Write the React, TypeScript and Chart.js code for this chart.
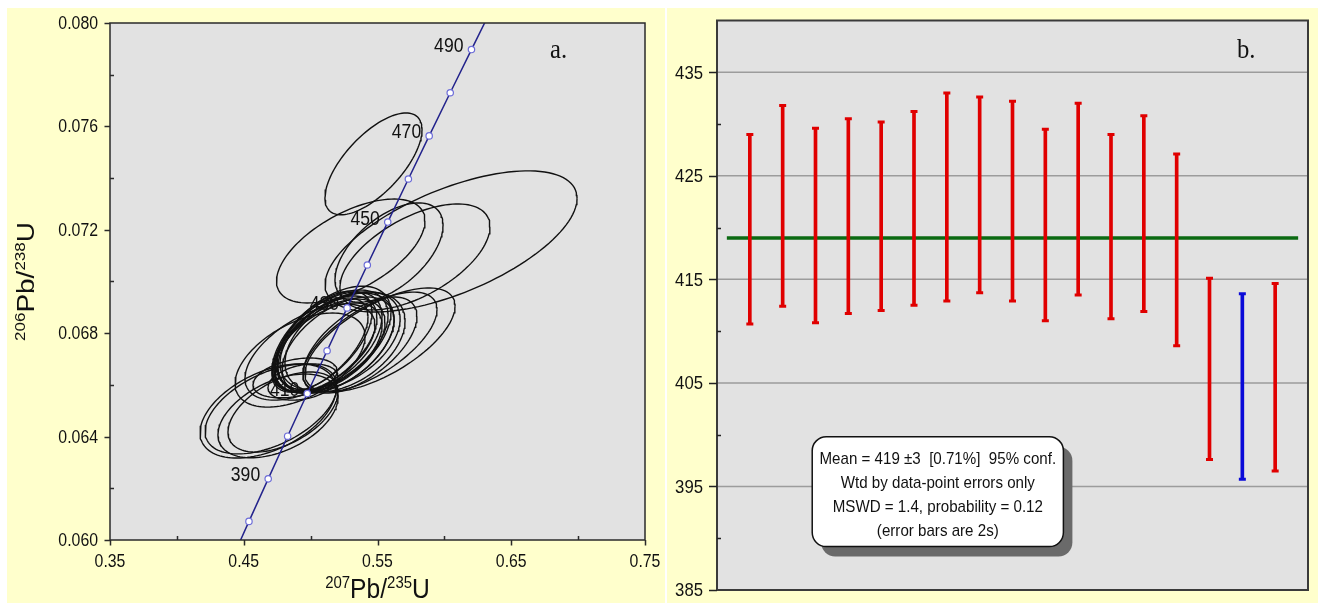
import React, { useEffect, useRef } from 'react';
import { Chart, registerables } from 'chart.js';
Chart.register(...registerables);

// ---------------- Panel a: concordia ----------------
const xMajorTicks = [0.35, 0.45, 0.55, 0.65, 0.75];
const xMajorLabels = ['0.35', '0.45', '0.55', '0.65', '0.75'];
const xMinorTicks = [0.4, 0.5, 0.6, 0.7];
const yMajorTicks = [0.06, 0.064, 0.068, 0.072, 0.076, 0.08];
const yMajorLabels = ['0.060', '0.064', '0.068', '0.072', '0.076', '0.080'];
const yMinorTicks = [0.062, 0.066, 0.07, 0.074, 0.078];

const concordiaAges = [370, 380, 390, 400, 410, 420, 430, 440, 450, 460, 470, 480, 490, 500];
const concordiaX = [0.43964, 0.45389, 0.46828, 0.48281, 0.49749, 0.51231, 0.52728, 0.54239, 0.55766, 0.57308, 0.58864, 0.60437, 0.62025, 0.63628];
const concordiaY = [0.059075, 0.06072, 0.062366, 0.064015, 0.065666, 0.067322, 0.068978, 0.070638, 0.072299, 0.073965, 0.075632, 0.077301, 0.078973, 0.080649];
const concordiaLabelAges = [390, 410, 430, 450, 470, 490];

// error ellipses: centre, 2s half-extent, correlation
const ellX = [0.547, 0.605, 0.578, 0.5586, 0.53,
  0.513, 0.516, 0.519, 0.5107, 0.522, 0.5145, 0.5175, 0.5085, 0.5257, 0.513, 0.5205, 0.507,
  0.5519, 0.5444, 0.5369,
  0.4681, 0.4704, 0.4756, 0.4793,
  0.4921, 0.4995,
  0.4943, 0.4883];
const ellSX = [0.0363, 0.0942, 0.0561, 0.0404, 0.0555,
  0.0404, 0.0419, 0.0434, 0.0389, 0.0449, 0.0411, 0.0426, 0.0374, 0.0449, 0.0404, 0.0419, 0.0359,
  0.0561, 0.0501, 0.0426,
  0.0508, 0.0493, 0.0449, 0.0411,
  0.0486, 0.0486,
  0.0262, 0.0314];
const ellY = [0.07455, 0.07155, 0.07095, 0.07112, 0.07118,
  0.06766, 0.06774, 0.06762, 0.06758, 0.0677, 0.0675, 0.06781, 0.0677, 0.06766, 0.06743, 0.06754, 0.06754,
  0.06774, 0.06766, 0.06754,
  0.06499, 0.06507, 0.0648, 0.06495,
  0.06696, 0.06727,
  0.06611, 0.06627];
const ellSY = [0.00197, 0.00273, 0.00205, 0.00192, 0.00201,
  0.00193, 0.00193, 0.00193, 0.00186, 0.0019, 0.00182, 0.00201, 0.00193, 0.00193, 0.00174, 0.00186, 0.00182,
  0.00201, 0.00193, 0.00186,
  0.00182, 0.00174, 0.00162, 0.00155,
  0.00182, 0.00186,
  0.0007, 0.00077];
const ellRho = [0.67, 0.61, 0.57, 0.55, 0.58,
  0.52, 0.5, 0.48, 0.55, 0.45, 0.5, 0.5, 0.58, 0.42, 0.5, 0.52, 0.6,
  0.65, 0.65, 0.6,
  0.46, 0.5, 0.45, 0.5,
  0.5, 0.55,
  0.3, 0.35];

// ---------------- Panel b: weighted mean ----------------
const barLow = [410.7, 412.4, 410.8, 411.7, 412.0, 412.5, 412.9, 413.7, 412.9, 411.0, 413.5, 411.2, 411.9, 408.6, 397.6, 395.7, 396.5];
const barHigh = [429.0, 431.8, 429.6, 430.5, 430.2, 431.2, 433.0, 432.6, 432.2, 429.5, 432.0, 429.0, 430.8, 427.1, 415.1, 413.6, 414.6];
const rejected = [false, false, false, false, false, false, false, false, false, false, false, false, false, false, false, true, false];
const meanAge = 419;
const bMajorTicks = [385, 395, 405, 415, 425, 435];
const bMajorLabels = ['385', '395', '405', '415', '425', '435'];
const bMinorTicks = [390, 400, 410, 420, 430];
const bGridLines = [395, 405, 415, 425, 435];
const boxLines = [
  'Mean = 419 \u00b13  [0.71%]  95% conf.',
  'Wtd by data-point errors only',
  'MSWD = 1.4, probability = 0.12',
  '(error bars are 2s)',
];

const SANS = '"Liberation Sans", Arial, sans-serif';
const SERIF = '"Liberation Serif", "Times New Roman", serif';
const SQ = 0.88;

function txt(ctx: CanvasRenderingContext2D, s: string, x: number, y: number, font: string,
  align: CanvasTextAlign, baseline: CanvasTextBaseline, sx = SQ, color = '#111') {
  ctx.save();
  ctx.font = font;
  ctx.fillStyle = color;
  ctx.textAlign = align;
  ctx.textBaseline = baseline;
  ctx.translate(x, y);
  ctx.scale(sx, 1);
  ctx.fillText(s, 0, 0);
  ctx.restore();
}

type Seg = { t: string; sup: boolean };
const titleX: Seg[] = [{ t: '207', sup: true }, { t: 'Pb/', sup: false }, { t: '235', sup: true }, { t: 'U', sup: false }];
const titleY: Seg[] = [{ t: '206', sup: true }, { t: 'Pb/', sup: false }, { t: '238', sup: true }, { t: 'U', sup: false }];

function drawSupTitle(ctx: CanvasRenderingContext2D, segs: Seg[]) {
  const big = `28px ${SANS}`;
  const small = `17px ${SANS}`;
  let total = 0;
  const widths = segs.map((s) => {
    ctx.font = s.sup ? small : big;
    const w = ctx.measureText(s.t).width;
    total += w;
    return w;
  });
  let x = -total / 2;
  ctx.fillStyle = '#111';
  ctx.textBaseline = 'alphabetic';
  ctx.textAlign = 'left';
  segs.forEach((s, i) => {
    ctx.font = s.sup ? small : big;
    ctx.fillText(s.t, x, s.sup ? -10 : 0);
    x += widths[i];
  });
}

const concordiaPlugin = {
  id: 'concordiaDecor',
  beforeDraw(chart: any) {
    const { ctx, chartArea: a } = chart;
    ctx.save();
    ctx.fillStyle = '#e2e2e2';
    ctx.fillRect(a.left, a.top, a.right - a.left, a.bottom - a.top);
    ctx.restore();
  },
  beforeDatasetsDraw(chart: any) {
    const { ctx } = chart;
    const xs = chart.scales.x;
    const ys = chart.scales.y;
    concordiaLabelAges.forEach((age) => {
      const i = concordiaAges.indexOf(age);
      const px = xs.getPixelForValue(concordiaX[i]);
      const py = ys.getPixelForValue(concordiaY[i]);
      txt(ctx, String(age), px - 8, py - 3, `20px ${SANS}`, 'right', 'middle');
    });
  },
  afterDraw(chart: any) {
    const { ctx, chartArea: a } = chart;
    const xs = chart.scales.x;
    const ys = chart.scales.y;
    ctx.save();
    ctx.strokeStyle = '#2a2a2a';
    ctx.lineWidth = 1.5;
    ctx.strokeRect(a.left, a.top, a.right - a.left, a.bottom - a.top);
    ctx.beginPath();
    xMajorTicks.forEach((v) => {
      const p = Math.round(xs.getPixelForValue(v)) + 0.5;
      ctx.moveTo(p, a.bottom); ctx.lineTo(p, a.bottom + 5.5);
    });
    xMinorTicks.forEach((v) => {
      const p = Math.round(xs.getPixelForValue(v)) + 0.5;
      ctx.moveTo(p, a.bottom); ctx.lineTo(p, a.bottom - 4);
    });
    yMajorTicks.forEach((v) => {
      const p = Math.round(ys.getPixelForValue(v)) + 0.5;
      ctx.moveTo(a.left - 5.5, p); ctx.lineTo(a.left, p);
    });
    yMinorTicks.forEach((v) => {
      const p = Math.round(ys.getPixelForValue(v)) + 0.5;
      ctx.moveTo(a.left, p); ctx.lineTo(a.left + 4, p);
    });
    ctx.stroke();
    ctx.restore();
    xMajorTicks.forEach((v, i) => {
      txt(ctx, xMajorLabels[i], xs.getPixelForValue(v), a.bottom + 22, `18px ${SANS}`, 'center', 'middle');
    });
    yMajorTicks.forEach((v, i) => {
      txt(ctx, yMajorLabels[i], a.left - 12, ys.getPixelForValue(v) + 1, `18px ${SANS}`, 'right', 'middle');
    });
    // axis titles
    ctx.save();
    ctx.translate((a.left + a.right) / 2, a.bottom + 58);
    ctx.scale(SQ, 1);
    drawSupTitle(ctx, titleX);
    ctx.restore();
    ctx.save();
    ctx.translate(27, (a.top + a.bottom) / 2);
    ctx.rotate(-Math.PI / 2);
    ctx.scale(1, SQ);
    drawSupTitle(ctx, titleY);
    ctx.restore();
    txt(ctx, 'a.', 543, 50, `28px ${SERIF}`, 'left', 'alphabetic');
  },
};

const meanPlugin = {
  id: 'meanDecor',
  beforeDraw(chart: any) {
    const { ctx, chartArea: a } = chart;
    const ys = chart.scales.y;
    ctx.save();
    ctx.fillStyle = '#e2e2e2';
    ctx.fillRect(a.left, a.top, a.right - a.left, a.bottom - a.top);
    ctx.strokeStyle = '#9c9c9c';
    ctx.lineWidth = 1.5;
    ctx.beginPath();
    bGridLines.forEach((v) => {
      const p = ys.getPixelForValue(v);
      ctx.moveTo(a.left, p); ctx.lineTo(a.right, p);
    });
    ctx.stroke();
    ctx.restore();
  },
  afterDraw(chart: any) {
    const { ctx, chartArea: a } = chart;
    const xs = chart.scales.x;
    const ys = chart.scales.y;
    ctx.save();
    ctx.strokeStyle = '#3a3a3a';
    ctx.lineWidth = 2;
    ctx.strokeRect(a.left, a.top, a.right - a.left, a.bottom - a.top);
    ctx.lineWidth = 1.5;
    ctx.strokeStyle = '#222';
    ctx.beginPath();
    bMajorTicks.forEach((v) => {
      const p = Math.round(ys.getPixelForValue(v)) + 0.5;
      ctx.moveTo(a.left - 8, p); ctx.lineTo(a.left, p);
    });
    bMinorTicks.forEach((v) => {
      const p = Math.round(ys.getPixelForValue(v)) + 0.5;
      ctx.moveTo(a.left, p); ctx.lineTo(a.left + 4, p);
    });
    ctx.stroke();
    ctx.restore();
    bMajorTicks.forEach((v, i) => {
      txt(ctx, bMajorLabels[i], a.left - 14, ys.getPixelForValue(v) + 1, `19px ${SANS}`, 'right', 'middle');
    });
    txt(ctx, 'b.', 570, 50, `28px ${SERIF}`, 'left', 'alphabetic');

    // statistics box
    const l = xs.getPixelForValue(2.9);
    const r = xs.getPixelForValue(10.55);
    const t = ys.getPixelForValue(399.8);
    const b = ys.getPixelForValue(389.2);
    ctx.save();
    ctx.fillStyle = '#6a6a6a';
    ctx.beginPath();
    ctx.roundRect(l + 9, t + 10, r - l, b - t, 14);
    ctx.fill();
    ctx.fillStyle = '#ffffff';
    ctx.strokeStyle = '#111';
    ctx.lineWidth = 1.5;
    ctx.beginPath();
    ctx.roundRect(l, t, r - l, b - t, 14);
    ctx.fill();
    ctx.stroke();
    ctx.restore();
    boxLines.forEach((s, i) => {
      txt(ctx, s, (l + r) / 2, t + 23 + i * 24, `17px ${SANS}`, 'center', 'middle', 0.89);
    });
  },
};

export default function App() {
  const refA = useRef<HTMLCanvasElement | null>(null);
  const refB = useRef<HTMLCanvasElement | null>(null);

  useEffect(() => {
    document.body.style.margin = '0';
    const ellipseDatasets = ellX.map((cx, i) => {
      const pts: { x: number; y: number }[] = [];
      const sx = ellSX[i];
      const sy = ellSY[i];
      const r = ellRho[i];
      const q = Math.sqrt(1 - r * r);
      for (let k = 0; k <= 120; k++) {
        const th = (2 * Math.PI * k) / 120;
        pts.push({ x: cx + sx * Math.cos(th), y: ellY[i] + sy * (r * Math.cos(th) + q * Math.sin(th)) });
      }
      return {
        data: pts,
        showLine: true,
        pointRadius: 0,
        borderColor: '#111111',
        borderWidth: 1.4,
        fill: false,
        order: 1,
      };
    });
    const concordia = {
      data: concordiaX.map((x, i) => ({ x, y: concordiaY[i] })),
      showLine: true,
      borderColor: '#23238c',
      borderWidth: 1.5,
      pointRadius: 3.2,
      pointBackgroundColor: '#ffffff',
      pointBorderColor: '#6c6cd8',
      pointBorderWidth: 1.2,
      fill: false,
      order: -1,
    };
    const chartA = new Chart(refA.current as HTMLCanvasElement, {
      type: 'scatter',
      data: { datasets: [concordia as any, ...(ellipseDatasets as any[])] },
      options: {
        animation: false,
        responsive: false,
        events: [],
        layout: { padding: { left: 103, right: 20, top: 15, bottom: 63 } },
        scales: {
          x: { type: 'linear', min: 0.35, max: 0.75, display: false },
          y: { type: 'linear', min: 0.06, max: 0.08, display: false },
        },
        plugins: { legend: { display: false }, tooltip: { enabled: false } },
      },
      plugins: [concordiaPlugin],
    });

    const barColors = rejected.map((rj) => (rj ? '#0a0ad8' : '#e00000'));
    const capPoints: { x: number; y: number }[] = [];
    const capColors: string[] = [];
    barLow.forEach((lo, i) => {
      capPoints.push({ x: i + 1, y: lo });
      capColors.push(barColors[i]);
      capPoints.push({ x: i + 1, y: barHigh[i] });
      capColors.push(barColors[i]);
    });
    const chartB = new Chart(refB.current as HTMLCanvasElement, {
      type: 'bar',
      data: {
        datasets: [
          {
            type: 'scatter',
            data: capPoints,
            pointStyle: 'line',
            pointRadius: 3.5,
            pointBorderWidth: 3,
            pointBorderColor: capColors,
            borderColor: capColors,
            order: 0,
          } as any,
          {
            type: 'bar',
            data: barLow.map((lo, i) => ({ x: i + 1, y: [lo, barHigh[i]] })),
            backgroundColor: barColors,
            borderWidth: 0,
            barThickness: 3,
            order: 1,
          } as any,
          {
            type: 'line',
            data: [{ x: 0.3, y: meanAge }, { x: 17.7, y: meanAge }],
            borderColor: '#0b6a12',
            borderWidth: 3.5,
            pointRadius: 0,
            fill: false,
            order: 2,
          } as any,
        ],
      },
      options: {
        animation: false,
        responsive: false,
        events: [],
        layout: { padding: { left: 50, right: 10, top: 12.5, bottom: 13 } },
        scales: {
          x: { type: 'linear', min: 0, max: 18, offset: false, display: false },
          y: { type: 'linear', min: 385, max: 440, display: false },
        },
        plugins: { legend: { display: false }, tooltip: { enabled: false } },
      },
      plugins: [meanPlugin],
    });
    return () => {
      chartA.destroy();
      chartB.destroy();
    };
  }, []);

  return (
    <div style={{ position: 'fixed', left: 0, top: 0, width: 1320, height: 603, background: '#ffffff', overflow: 'hidden' }}>
      <div style={{ position: 'absolute', left: 7, top: 8, width: 658, height: 595, background: '#ffffcc' }}>
        <canvas ref={refA} width={658} height={595} style={{ display: 'block' }} />
      </div>
      <div style={{ position: 'absolute', left: 667, top: 8, width: 651, height: 595, background: '#ffffcc' }}>
        <canvas ref={refB} width={651} height={595} style={{ display: 'block' }} />
      </div>
    </div>
  );
}
